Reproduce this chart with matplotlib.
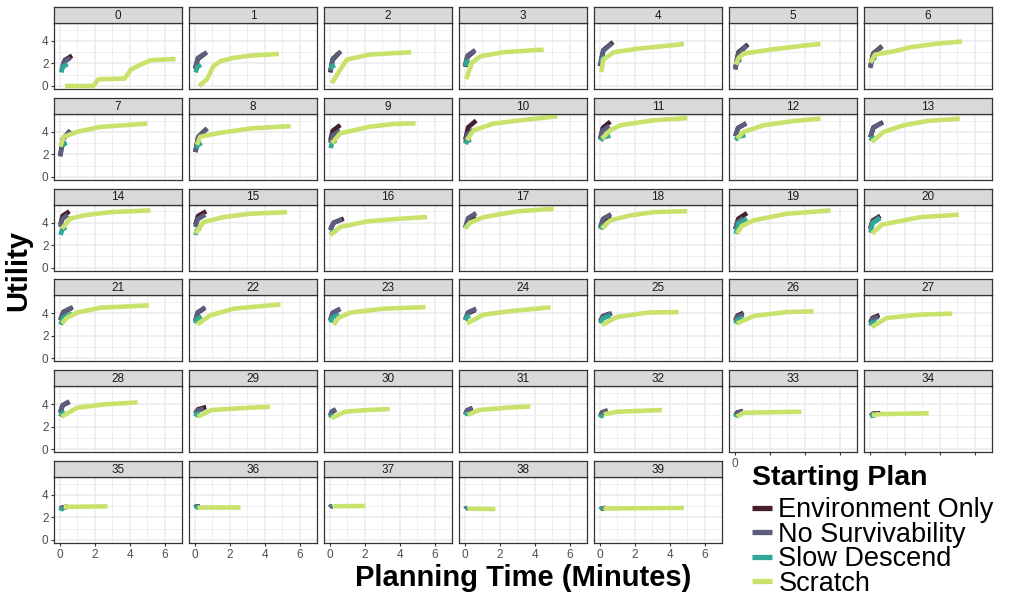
import matplotlib
matplotlib.use("Agg")
import matplotlib.pyplot as plt
from matplotlib.lines import Line2D

plt.rcParams['font.family'] = ['Liberation Sans', 'DejaVu Sans']

panels = list(range(40))
series_names = ["Environment Only", "No Survivability", "Slow Descend", "Scratch"]
series_colors = ["#45202C", "#5C5E7E", "#31A797", "#C8E26C"]

x_ticks = [0, 2, 4, 6]
y_ticks = [0, 2, 4]

scratch_t = [
    [0.3, 1.9, 2.2, 3.7, 4.05, 4.6, 5.2, 6.6],
    [0.24, 0.7, 1.06, 1.46, 2.2, 3.17, 4.8],
    [0.12, 0.6, 0.98, 2.3, 4.64],
    [0.08, 0.41, 0.89, 2.2, 4.5],
    [0.09, 0.2, 0.8, 2.1, 4.8],
    [0.05, 0.22, 0.5, 2.03, 3.93, 4.89],
    [0.03, 0.3, 1.36, 2.3, 3.84, 5.27],
    [0.03, 0.22, 0.98, 2.3, 4.98],
    [0.12, 0.31, 1.27, 3.17, 5.46],
    [0.12, 0.6, 2.31, 3.65, 4.89],
    [0.12, 0.5, 1.65, 3.17, 5.27],
    [0.12, 0.6, 1.17, 3.07, 4.98],
    [0.12, 0.5, 1.65, 3.36, 4.89],
    [0.12, 0.79, 1.93, 3.27, 5.13],
    [0.12, 0.6, 1.36, 2.89, 5.17],
    [0.03, 0.5, 1.65, 3.17, 5.27],
    [0.03, 0.6, 2.13, 4.03, 5.55],
    [0.03, 0.3, 1.07, 2.98, 5.07],
    [0.12, 0.6, 1.74, 3.07, 4.98],
    [0.12, 0.4, 1.07, 2.98, 5.46],
    [0.12, 0.7, 2.89, 5.08],
    [0.12, 0.4, 0.98, 2.31, 5.08],
    [0.12, 0.89, 2.22, 4.89],
    [0.22, 0.5, 1.17, 3.07, 5.46],
    [0.12, 1.07, 2.6, 4.89],
    [0.12, 0.98, 2.7, 4.5],
    [0.12, 1.07, 2.98, 4.5],
    [0.12, 0.98, 2.89, 4.7],
    [0.1, 0.99, 2.52, 4.43],
    [0.16, 0.93, 2.46, 4.29],
    [0.1, 0.86, 2.14, 3.42],
    [0.17, 0.8, 2.34, 3.74],
    [0.23, 1.0, 3.55],
    [0.12, 0.5, 3.8],
    [0.12, 0.6, 3.36],
    [0.22, 2.73],
    [0.12, 2.6],
    [0.2, 2.03],
    [0.15, 1.75],
    [0.2, 4.8],
]
scratch_y = [
    [0.0, 0.0, 0.6, 0.65, 1.45, 1.9, 2.3, 2.4],
    [0.0, 0.6, 1.76, 2.2, 2.5, 2.7, 2.85],
    [0.24, 1.47, 2.35, 2.8, 3.0],
    [0.6, 2.06, 2.64, 3.0, 3.23],
    [1.23, 2.35, 3.0, 3.3, 3.73],
    [1.9, 2.5, 2.88, 3.23, 3.59, 3.73],
    [2.06, 2.79, 3.08, 3.44, 3.76, 3.96],
    [2.67, 3.55, 3.99, 4.43, 4.73],
    [2.83, 3.56, 3.86, 4.3, 4.5],
    [2.99, 3.87, 4.46, 4.69, 4.75],
    [3.26, 4.14, 4.73, 5.02, 5.38],
    [3.41, 4.14, 4.58, 5.02, 5.22],
    [3.41, 3.99, 4.58, 4.96, 5.17],
    [3.11, 3.99, 4.58, 4.96, 5.17],
    [3.47, 4.35, 4.64, 4.93, 5.08],
    [3.03, 4.05, 4.49, 4.79, 4.93],
    [2.88, 3.61, 4.11, 4.35, 4.49],
    [3.47, 4.0, 4.49, 5.0, 5.23],
    [3.47, 4.2, 4.64, 4.93, 5.02],
    [3.03, 3.7, 4.2, 4.79, 5.08],
    [3.03, 3.82, 4.49, 4.7],
    [3.1, 3.6, 4.07, 4.51, 4.71],
    [3.01, 3.83, 4.42, 4.8],
    [3.01, 3.6, 4.07, 4.42, 4.56],
    [3.1, 3.89, 4.2, 4.54],
    [2.95, 3.68, 4.07, 4.12],
    [3.1, 3.77, 4.12, 4.18],
    [2.8, 3.6, 3.89, 3.98],
    [2.89, 3.68, 3.98, 4.16],
    [2.89, 3.48, 3.63, 3.77],
    [2.75, 3.33, 3.48, 3.57],
    [3.04, 3.48, 3.68, 3.8],
    [3.1, 3.33, 3.48],
    [2.89, 3.24, 3.33],
    [3.04, 3.12, 3.19],
    [2.94, 2.99],
    [2.94, 2.94],
    [3.0, 3.02],
    [2.78, 2.75],
    [2.8, 2.85],
]

env_t = [
    [0.15, 0.29, 0.7], [0.03, 0.17, 0.6], [0.03, 0.15, 0.5], [0.03, 0.16, 0.55],
    [0.03, 0.21, 0.75], [0.03, 0.21, 0.75], [0.03, 0.2, 0.7], [0.03, 0.17, 0.6],
    [0.03, 0.2, 0.7], [0.03, 0.17, 0.6], [0.03, 0.19, 0.65], [0.03, 0.17, 0.6],
    [0.03, 0.19, 0.65], [0.03, 0.21, 0.75], [0.03, 0.16, 0.55], [0.03, 0.19, 0.65],
    [0.03, 0.22, 0.8], [0.03, 0.17, 0.6], [0.03, 0.17, 0.6], [0.03, 0.2, 0.7],
    [0.03, 0.17, 0.6], [0.03, 0.2, 0.7], [0.03, 0.16, 0.55], [0.03, 0.17, 0.6],
    [0.03, 0.17, 0.6], [0.03, 0.17, 0.6], [0.03, 0.15, 0.5], [0.03, 0.16, 0.55],
    [0.03, 0.16, 0.55], [0.03, 0.19, 0.65], [0.03, 0.11, 0.35], [0.03, 0.13, 0.45],
    [0.03, 0.13, 0.45], [0.03, 0.14, 0.47], [0.1, 0.22, 0.6], [0.03, 0.13, 0.45],
    [0.0, 0.08, 0.3], [0.0, 0.04, 0.15], [0.03, 0.06, 0.15], [0.03, 0.11, 0.35],
]
env_y = [
    [1.6, 2.3, 2.7], [1.5, 2.4, 2.9], [1.2, 2.3, 2.9], [1.7, 2.6, 3.1],
    [1.8, 3.2, 3.9], [1.6, 3.0, 3.7], [1.7, 2.9, 3.55], [1.9, 3.35, 4.1],
    [2.2, 3.55, 4.3], [3.2, 4.1, 4.6], [3.3, 4.4, 5.0], [3.4, 4.35, 4.9],
    [3.6, 4.35, 4.75], [3.5, 4.4, 4.85], [3.8, 4.6, 5.0], [3.8, 4.6, 5.0],
    [3.4, 4.0, 4.35], [3.5, 4.2, 4.6], [3.5, 4.2, 4.6], [3.4, 4.35, 4.85],
    [3.5, 4.2, 4.6], [3.4, 4.1, 4.5], [3.3, 4.05, 4.45], [3.4, 4.05, 4.4],
    [3.4, 4.0, 4.3], [3.3, 3.75, 4.0], [3.4, 3.8, 4.05], [3.2, 3.6, 3.85],
    [3.3, 3.9, 4.2], [3.2, 3.55, 3.75], [2.95, 3.3, 3.5], [3.1, 3.45, 3.65],
    [2.95, 3.28, 3.45], [3.0, 3.26, 3.4], [3.1, 3.17, 3.2], [2.75, 2.88, 2.95],
    [2.9, 2.97, 3.0], [2.9, 2.97, 3.0], [2.75, 2.81, 2.85], [2.7, 2.8, 2.85],
]

nosurv_t = [
    [0.1, 0.22, 0.6], [0.01, 0.18, 0.7], [0.03, 0.18, 0.64], [0.0, 0.15, 0.6],
    [0.0, 0.18, 0.7], [0.03, 0.2, 0.7], [0.03, 0.2, 0.7], [0.03, 0.17, 0.6],
    [0.03, 0.2, 0.7], [0.03, 0.17, 0.6], [0.03, 0.15, 0.5], [0.03, 0.16, 0.55],
    [0.03, 0.19, 0.65], [0.03, 0.2, 0.7], [0.03, 0.14, 0.45], [0.03, 0.17, 0.6],
    [0.03, 0.2, 0.7], [0.03, 0.19, 0.65], [0.03, 0.19, 0.65], [0.03, 0.15, 0.5],
    [0.03, 0.16, 0.55], [0.03, 0.21, 0.75], [0.03, 0.17, 0.6], [0.03, 0.17, 0.6],
    [0.03, 0.19, 0.65], [0.03, 0.2, 0.7], [0.03, 0.15, 0.5], [0.03, 0.15, 0.5],
    [0.03, 0.16, 0.55], [0.03, 0.15, 0.5], [0.03, 0.11, 0.35], [0.03, 0.13, 0.42],
    [0.03, 0.13, 0.45], [0.03, 0.13, 0.45], [0.03, 0.15, 0.5], [0.03, 0.12, 0.4],
    [0.0, 0.08, 0.3], [0.0, 0.03, 0.12], [0.03, 0.06, 0.15], [0.03, 0.1, 0.3],
]
nosurv_y = [
    [1.4, 2.1, 2.5], [1.6, 2.5, 3.0], [1.3, 2.45, 3.08], [1.75, 2.7, 3.2],
    [1.75, 3.1, 3.8], [1.45, 2.85, 3.6], [1.6, 2.85, 3.5], [1.8, 3.3, 4.14],
    [2.2, 3.55, 4.3], [3.0, 3.7, 4.1], [3.0, 3.8, 4.2], [3.3, 4.1, 4.5],
    [3.6, 4.35, 4.75], [3.5, 4.35, 4.8], [3.6, 4.3, 4.7], [3.6, 4.3, 4.7],
    [3.3, 3.95, 4.3], [3.6, 4.4, 4.85], [3.6, 4.35, 4.75], [3.4, 4.05, 4.4],
    [3.4, 4.1, 4.5], [3.4, 4.15, 4.56], [3.3, 4.1, 4.55], [3.4, 4.05, 4.42],
    [3.5, 4.1, 4.42], [3.3, 3.75, 4.0], [3.3, 3.7, 3.9], [3.1, 3.5, 3.7],
    [3.2, 3.9, 4.25], [3.1, 3.43, 3.6], [3.0, 3.35, 3.55], [3.1, 3.45, 3.65],
    [2.9, 3.25, 3.45], [3.0, 3.23, 3.35], [2.95, 3.11, 3.2], [2.75, 2.88, 2.95],
    [2.9, 2.97, 3.0], [2.92, 2.96, 2.98], [2.75, 2.8, 2.82], [2.7, 2.8, 2.85],
]

slow_t = [
    [0.08, 0.17, 0.45], [0.05, 0.13, 0.35], [0.05, 0.11, 0.3], [0.05, 0.1, 0.25],
    [0.1, 0.15, 0.3], [0.2, 0.24, 0.35], [0.2, 0.24, 0.35], [0.15, 0.21, 0.4],
    [0.1, 0.18, 0.4], [0.05, 0.13, 0.35], [0.05, 0.13, 0.35], [0.05, 0.19, 0.6],
    [0.05, 0.19, 0.6], [0.05, 0.11, 0.3], [0.05, 0.13, 0.35], [0.05, 0.11, 0.3],
    [0.05, 0.14, 0.4], [0.05, 0.09, 0.2], [0.05, 0.13, 0.35], [0.05, 0.21, 0.7],
    [0.03, 0.17, 0.6], [0.03, 0.2, 0.7], [0.03, 0.12, 0.4], [0.03, 0.16, 0.55],
    [0.03, 0.1, 0.3], [0.03, 0.17, 0.6], [0.03, 0.15, 0.5], [0.03, 0.12, 0.4],
    [0.03, 0.1, 0.3], [0.03, 0.1, 0.3], [0.03, 0.07, 0.2], [0.03, 0.07, 0.2],
    [0.03, 0.07, 0.2], [0.03, 0.06, 0.15], [0.03, 0.1, 0.3], [0.03, 0.07, 0.2],
    [0.03, 0.07, 0.2], [0.05, 0.07, 0.12], [0.05, 0.07, 0.12], [0.03, 0.06, 0.15],
]
slow_y = [
    [1.2, 1.7, 1.95], [1.2, 1.65, 1.9], [1.5, 1.73, 1.85], [1.8, 2.13, 2.3],
    [2.1, 2.43, 2.6], [2.1, 2.3, 2.4], [2.3, 2.5, 2.6], [2.7, 2.9, 3.0],
    [2.5, 2.83, 3.0], [2.55, 3.0, 3.25], [2.9, 3.16, 3.3], [3.2, 3.5, 3.65],
    [3.25, 3.55, 3.7], [3.2, 3.4, 3.5], [2.9, 3.35, 3.6], [2.9, 3.3, 3.5],
    [2.9, 3.16, 3.3], [3.5, 3.7, 3.8], [3.4, 3.66, 3.8], [3.0, 3.9, 4.35],
    [3.1, 3.95, 4.4], [3.0, 3.65, 3.98], [3.1, 3.5, 3.7], [3.2, 3.65, 3.9],
    [3.4, 3.66, 3.8], [3.1, 3.55, 3.8], [3.1, 3.43, 3.6], [2.9, 3.16, 3.3],
    [2.9, 3.16, 3.3], [2.9, 3.1, 3.2], [2.8, 2.93, 3.0], [3.0, 3.13, 3.2],
    [2.8, 2.93, 3.0], [2.85, 2.95, 3.0], [2.9, 2.96, 3.0], [2.6, 2.73, 2.8],
    [2.8, 2.87, 2.9], [2.95, 2.98, 3.0], [2.75, 2.78, 2.8], [2.7, 2.77, 2.8],
]

series_t = [env_t, nosurv_t, slow_t, scratch_t]
series_y = [env_y, nosurv_y, slow_y, scratch_y]

W, H = 1010, 596
fig = plt.figure(figsize=(W / 100, H / 100), dpi=100)

def fx(px):
    return px / W

def fy(py):
    return 1 - py / H

ncol = 7
col_left0, col_pitch, pw = 54, 135, 128
row_top0, row_pitch, ph, sh = 23, 90.8, 66, 16
border = "#333333"
lw_line = 3.3

for i in panels:
    r, c = divmod(i, ncol)
    left = col_left0 + col_pitch * c
    top = row_top0 + row_pitch * r
    ax = fig.add_axes([fx(left), fy(top + ph), pw / W, ph / H])
    ax.set_xlim(-0.33, 6.97)
    ax.set_ylim(-0.27, 5.6)
    ax.set_xticks(x_ticks)
    ax.set_xticks([1, 3, 5], minor=True)
    ax.set_yticks(y_ticks)
    ax.set_yticks([1, 3, 5], minor=True)
    ax.grid(which='major', color='#EBEBEB', lw=1.1)
    ax.grid(which='minor', color='#EBEBEB', lw=0.55)
    ax.set_axisbelow(True)
    for s in ax.spines.values():
        s.set_color(border)
        s.set_linewidth(0.9)
    ax.tick_params(which='minor', length=0)
    ax.tick_params(which='major', length=2.5, width=0.8, color=border,
                   labelsize=8.5, labelcolor='#4D4D4D', pad=1.5)
    show_x = (r == 5) or (i in (33, 34))
    show_y = (c == 0)
    ax.tick_params(axis='x', bottom=show_x, labelbottom=show_x)
    ax.tick_params(axis='y', left=show_y, labelleft=show_y)
    if i == 33:
        # the legend covers all but the first label of this row
        ax.set_xticklabels([str(x_ticks[0]), "", "", ""])
    elif i == 34:
        ax.set_xticklabels(["", "", "", ""])
    for k in range(4):
        ax.plot(series_t[k][i], series_y[k][i], color=series_colors[k], lw=lw_line,
                solid_capstyle='butt', solid_joinstyle='round', zorder=2 + k)
    # strip
    sax = fig.add_axes([fx(left), fy(top), pw / W, sh / H])
    sax.set_facecolor('#D9D9D9')
    sax.set_xticks([])
    sax.set_yticks([])
    for s in sax.spines.values():
        s.set_color(border)
        s.set_linewidth(0.9)
    sax.text(0.5, 0.45, str(i), ha='center', va='center', fontsize=8.5,
             color='#1A1A1A', transform=sax.transAxes)

fig.text(fx(18), fy(270), "Utility", rotation=90, ha='center', va='center',
         fontsize=21, fontweight='bold')
fig.text(fx(523), fy(578), "Planning Time (Minutes)", ha='center', va='center',
         fontsize=21, fontweight='bold')

# legend: title placed separately for exact spacing
fig.text(fx(752), fy(478), "Starting Plan", ha='left', va='center',
         fontsize=20.5, fontweight='bold')
handles = [Line2D([0], [0], color=series_colors[k], lw=3.8, solid_capstyle='butt')
           for k in range(4)]
leg = fig.legend(handles, series_names, loc='upper left',
                 bbox_to_anchor=(fx(747), fy(492)), frameon=False,
                 fontsize=19.5, handlelength=0.74, handletextpad=0.22,
                 labelspacing=-0.055, borderpad=0.2, borderaxespad=0)

fig.savefig("out.png", dpi=100)
